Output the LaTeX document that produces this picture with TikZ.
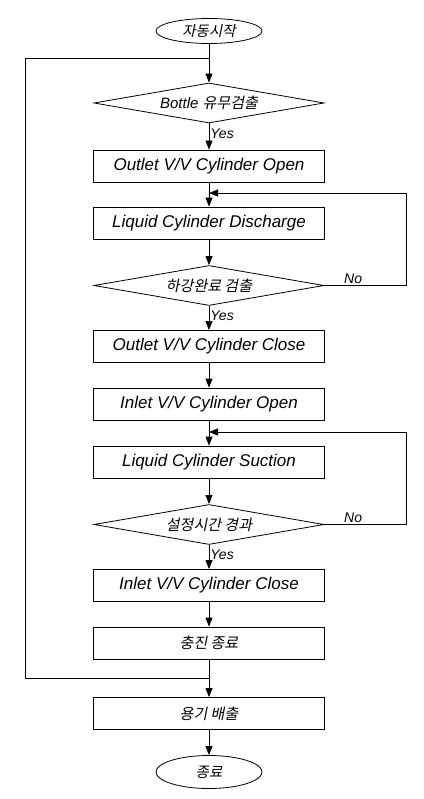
\documentclass[tikz,border=0pt]{standalone}
\usepackage{fontspec}
\setmainfont{Liberation Sans}
\newfontfamily\kr{Noto Sans CJK KR}[UprightFeatures={FakeSlant=0.2}]
\newcommand{\kor}[1]{{\kr\upshape #1}}
\usetikzlibrary{shapes.geometric,arrows.meta}
\tikzset{
  proc/.style={draw, rectangle, minimum width=231pt, minimum height=32pt,
    inner sep=0pt, font=\fontsize{17}{20}\selectfont\itshape},
  cond/.style={draw, diamond, aspect=5.75, minimum width=230pt,
    minimum height=40pt, inner sep=0pt, font=\fontsize{15}{17}\selectfont\itshape},
  term/.style={draw, ellipse, minimum width=106pt, inner sep=0pt,
    font=\fontsize{14.5}{17}\selectfont},
  flow/.style={-{Triangle[length=9pt,width=7pt]}},
  lbl/.style={font=\fontsize{14}{16}\selectfont\itshape, inner sep=1pt}
}
\begin{document}
\begin{tikzpicture}[x=1pt,y=1pt,line width=0.8pt]
\useasboundingbox (0,0) rectangle (423,-799);
% nodes
\node[term, minimum height=25pt] (start) at (209,-31) {\kor{자동시작}};
\node[cond] (bottle) at (209,-103) {Bottle \kor{유무검출}};
\node[proc] (outopen) at (209,-166) {Outlet V/V Cylinder Open};
\node[proc] (disch) at (209,-223) {Liquid Cylinder Discharge};
\node[cond] (down) at (209,-285.5) {\kor{하강완료 검출}};
\node[proc] (outclose) at (209,-346.5) {Outlet V/V Cylinder Close};
\node[proc] (inopen) at (209,-404) {Inlet V/V Cylinder Open};
\node[proc] (suct) at (209,-462) {Liquid Cylinder Suction};
\node[cond] (timer) at (209,-524.5) {\kor{설정시간 경과}};
\node[proc] (inclose) at (209,-585.5) {Inlet V/V Cylinder Close};
\node[proc, font=\fontsize{15}{17}\selectfont] (fill) at (209,-643) {\kor{충진 종료}};
\node[proc, font=\fontsize{15}{17}\selectfont] (eject) at (209,-713.5) {\kor{용기 배출}};
\node[term, minimum height=33pt] (stop) at (209,-772) {\kor{종료}};
% joints
\coordinate (jtop) at (209,-58);
\coordinate (jdis) at (209,-193);
\coordinate (jsuc) at (209,-432);
\coordinate (jbot) at (209,-678);
\coordinate (lft) at (25,-678);
% main flow
\draw[flow] (start) -- (bottle);
\draw[flow] (bottle) -- node[lbl, right, pos=0.4] {Yes} (outopen);
\draw[flow] (outopen) -- (disch);
\draw[flow] (disch) -- (down);
\draw[flow] (down) -- node[lbl, right, pos=0.4] {Yes} (outclose);
\draw[flow] (outclose) -- (inopen);
\draw[flow] (inopen) -- (suct);
\draw[flow] (suct) -- (timer);
\draw[flow] (timer) -- node[lbl, right, pos=0.4] {Yes} (inclose);
\draw[flow] (inclose) -- (fill);
\draw[flow] (fill) -- (eject);
\draw[flow] (eject) -- (stop);
% loops
\draw[flow] (down.east) -- node[lbl, above, pos=0.35] {No} ++(82,0) |- (jdis);
\draw[flow] (timer.east) -- node[lbl, above, pos=0.35] {No} ++(82,0) |- (jsuc);
\draw (jbot) -- (lft) |- (jtop);
\end{tikzpicture}
\end{document}
